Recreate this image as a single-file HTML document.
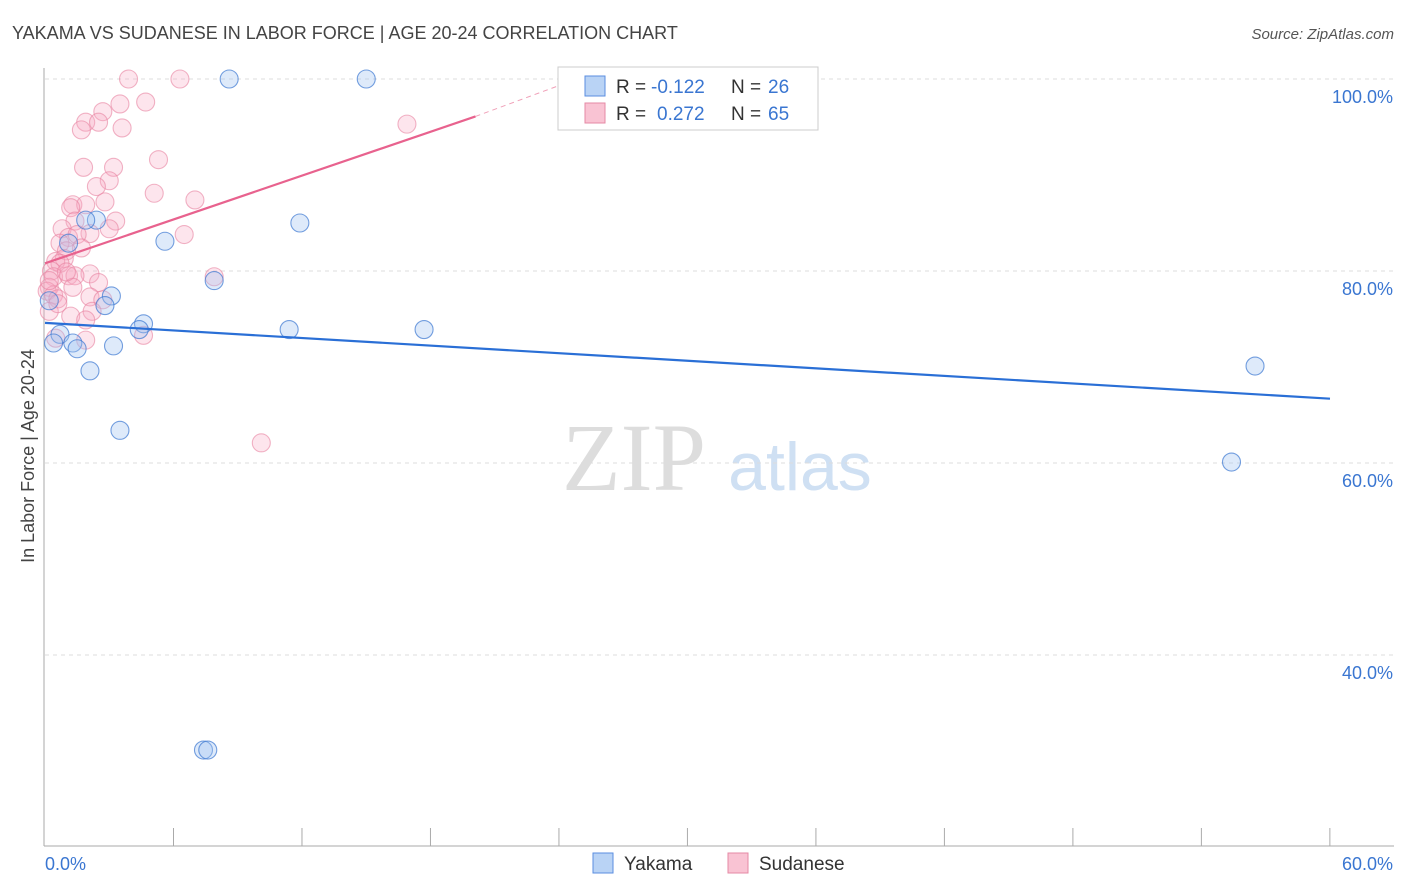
<!DOCTYPE html>
<html><head><meta charset="utf-8"><style>
body{margin:0;background:#fff;font-family:"Liberation Sans",sans-serif}
#wrap{position:relative;width:1406px;height:892px;overflow:hidden}
</style></head><body><div id="wrap">
<svg id="svg" width="1406" height="892" xmlns="http://www.w3.org/2000/svg">
<text x="12" y="39" font-size="18" fill="#444">YAKAMA VS SUDANESE IN LABOR FORCE | AGE 20-24 CORRELATION CHART</text>
<text x="1394" y="39" font-size="15" fill="#555" text-anchor="end" font-style="italic">Source: ZipAtlas.com</text>
<text x="34" y="456" font-size="18" fill="#444" text-anchor="middle" transform="rotate(-90 34 456)">In Labor Force | Age 20-24</text>
<text x="634" y="490" font-size="96" fill="#ddd" font-family="Liberation Serif,serif" text-anchor="middle">ZIP</text>
<text x="800" y="490" font-size="68" fill="#cfe0f3" text-anchor="middle">atlas</text>
<g id="grid"></g><g id="marks"></g>
<g>
<rect x="558" y="67" width="260" height="63" fill="#fff" stroke="#ccc"/>
<rect x="585" y="76" width="20" height="20" fill="#b9d3f5" stroke="#5a8ee0"/>
<rect x="585" y="103" width="20" height="20" fill="#f9c3d3" stroke="#e58aa5"/>
<text x="616" y="93" font-size="19" fill="#333">R =</text>
<text x="651" y="93" font-size="19" fill="#3a76d1">-0.122</text>
<text x="731" y="93" font-size="19" fill="#333">N =</text>
<text x="768" y="93" font-size="19" fill="#3a76d1">26</text>
<text x="616" y="120" font-size="19" fill="#333">R =</text>
<text x="657" y="120" font-size="19" fill="#3a76d1">0.272</text>
<text x="731" y="120" font-size="19" fill="#333">N =</text>
<text x="768" y="120" font-size="19" fill="#3a76d1">65</text>
</g>
<g>
<rect x="593" y="853" width="20" height="20" fill="#b9d3f5" stroke="#5a8ee0"/>
<text x="624" y="870" font-size="19" fill="#333">Yakama</text>
<rect x="728" y="853" width="20" height="20" fill="#f9c3d3" stroke="#e58aa5"/>
<text x="759" y="870" font-size="19" fill="#333">Sudanese</text>
</g>
</svg></div>
<script>
const yTicks=[100,80,60,40];
const xTickLabels=["0.0%","60.0%"];
const blueX=[8.6,15.0,2.4,1.9,11.9,5.6,1.1,7.9,3.1,2.8,4.6,4.4,11.4,17.7,0.7,0.4,1.3,3.2,1.5,2.1,3.5,56.5,55.4,7.4,7.6,0.2];
const blueY=[100,100,85.3,85.3,85.0,83.1,82.9,79.0,77.4,76.4,74.5,73.9,73.9,73.9,73.4,72.5,72.5,72.2,71.9,69.6,63.4,70.1,60.1,30.1,30.1,76.9];
const pinkX=[3.9,6.3,2.7,3.5,4.7,1.9,2.5,1.7,3.6,5.3,1.8,3.2,3.0,2.4,5.1,7.0,1.3,1.9,2.8,1.2,1.4,3.3,3.0,0.8,2.1,1.1,1.5,6.5,0.7,1.7,1.0,0.9,0.5,0.7,0.3,0.4,2.1,1.1,1.4,7.9,2.5,0.2,1.3,0.1,0.4,0.6,2.1,2.7,0.2,2.2,1.2,1.9,4.6,1.9,0.5,10.1,16.9,0.6,0.2,1.0];
const pinkY=[100,100,96.6,97.4,97.6,95.5,95.5,94.7,94.9,91.6,90.8,90.8,89.4,88.8,88.1,87.4,86.9,86.9,87.2,86.6,85.2,85.2,84.4,84.4,83.9,83.5,83.8,83.8,82.9,82.4,82.1,81.3,81.0,80.8,80.0,79.4,79.7,79.5,79.5,79.4,78.8,78.3,78.3,77.9,77.5,77.1,77.3,77.0,75.8,75.8,75.3,74.9,73.3,72.8,73.0,62.1,95.3,76.6,79.0,79.9];
const blueLine=[[0,74.6],[60,66.7]];
const pinkLine=[[0,80.8],[20.1,96.1]];
const pinkDash=[[20.1,96.1],[24.1,99.4]];
const X=v=>45+v*(1285/60), Y=v=>79+(100-v)*9.6;
const NS="http://www.w3.org/2000/svg";
function mk(t,a,p){const e=document.createElementNS(NS,t);for(const k in a)e.setAttribute(k,a[k]);p.appendChild(e);return e;}
const g=document.getElementById('grid'),m=document.getElementById('marks');
yTicks.forEach(t=>{
 const l=mk('line',{x1:45,x2:1394,y1:Y(t),y2:Y(t),stroke:'#ddd','stroke-dasharray':'4 4'},g);
 
 
 const tx=mk('text',{x:1393,y:Y(t)+24,'font-size':18,fill:'#3a76d1','text-anchor':'end'},g);tx.textContent=t.toFixed(1)+'%';
 
 
});
mk('line',{x1:44,x2:44,y1:68,y2:846,stroke:'#aaa'},g);
mk('line',{x1:44,x2:1394,y1:846,y2:846,stroke:'#aaa'},g);
for(let i=1;i<=10;i++){const v=i*6;mk('line',{x1:X(v*0.9999),x2:X(v*0.9999),y1:828,y2:846,stroke:'#aaa'},g);}
const xl=mk('text',{x:45,y:870,'font-size':18,fill:'#3a76d1'},g);xl.textContent=xTickLabels[0];


const xr=mk('text',{x:1393,y:870,'font-size':18,fill:'#3a76d1','text-anchor':'end'},g);xr.textContent=xTickLabels[1];


pinkX.forEach((x,i)=>{const c=mk('circle',{cx:X(x),cy:Y(pinkY[i]),r:9,fill:'rgba(247,170,195,0.3)',stroke:'rgba(232,130,160,0.6)','stroke-width':1.1},m);
 
 });
blueX.forEach((x,i)=>{const c=mk('circle',{cx:X(x),cy:Y(blueY[i]),r:9,fill:'rgba(160,195,240,0.35)',stroke:'rgba(60,120,210,0.7)','stroke-width':1.1},m);
 
 });
const bl=mk('line',{x1:X(blueLine[0][0]),y1:Y(blueLine[0][1]),x2:X(blueLine[1][0]),y2:Y(blueLine[1][1]),stroke:'#2a6fd6','stroke-width':2.2},m);


const pl=mk('line',{x1:X(pinkLine[0][0]),y1:Y(pinkLine[0][1]),x2:X(pinkLine[1][0]),y2:Y(pinkLine[1][1]),stroke:'#e8628e','stroke-width':2.2},m);


const pd=mk('line',{x1:X(pinkDash[0][0]),y1:Y(pinkDash[0][1]),x2:X(pinkDash[1][0]),y2:Y(pinkDash[1][1]),stroke:'#f0a0b8','stroke-width':1,'stroke-dasharray':'5 4'},m);


</script></body></html>
